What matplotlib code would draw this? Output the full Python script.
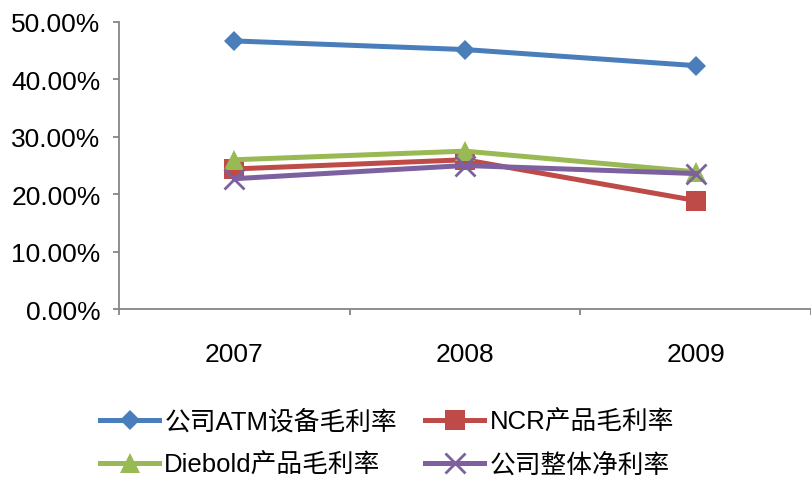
import matplotlib
matplotlib.use('Agg')
import matplotlib.pyplot as plt
from matplotlib.ticker import PercentFormatter, FixedLocator
import numpy as np

plt.rcParams['font.family'] = ['Liberation Sans', 'Noto Sans CJK SC']

years = ['2007', '2008', '2009']
atm_gross = [46.7, 45.2, 42.4]
ncr_gross = [24.4, 26.0, 18.9]
diebold_gross = [26.0, 27.5, 23.9]
net_margin = [22.7, 25.0, 23.6]

series = [
    ('公司ATM设备毛利率', atm_gross, '#4a7ebb', 'D', 10),
    ('NCR产品毛利率', ncr_gross, '#be4b48', 's', 14),
    ('Diebold产品毛利率', diebold_gross, '#98b954', '^', 14),
    ('公司整体净利率', net_margin, '#7d60a0', 'x', 14),
]

fig = plt.figure(figsize=(8.12, 4.81), dpi=100)
ax = fig.add_axes([119 / 812, 1 - 310 / 481, 692 / 812, 287 / 481])

x = np.arange(len(years))
lines = []
for name, vals, color, marker, ms in series:
    ln, = ax.plot(x, vals, color=color, lw=3.6, marker=marker, markersize=ms,
                  markeredgewidth=2.0 if marker == 'x' else 0,
                  markeredgecolor=color, label=name)
    lines.append(ln)

ax.set_xlim(-0.5, len(years) - 0.5)
ax.set_ylim(0, 50)
ax.set_yticks(np.arange(0, 51, 10))
ax.yaxis.set_major_formatter(PercentFormatter(decimals=2))
ax.set_xticks(x)
ax.set_xticklabels(years)
ax.xaxis.set_minor_locator(FixedLocator(np.arange(-0.5, len(years), 1)))

for side in ['top', 'right']:
    ax.spines[side].set_visible(False)
for side in ['left', 'bottom']:
    ax.spines[side].set_color('#868686')
    ax.spines[side].set_linewidth(1.3)

ax.tick_params(axis='y', which='major', length=4.3, width=1.3, color='#868686',
               labelsize=19, pad=9)
ax.tick_params(axis='x', which='major', length=0, labelsize=19, pad=24)
ax.tick_params(axis='x', which='minor', length=4.3, width=1.3, color='#868686')

# legend fills column-wise, so order the handles to read row by row
order = [0, 2, 1, 3]
fig.legend([lines[i] for i in order], [lines[i].get_label() for i in order],
           loc='upper left', bbox_to_anchor=(100 / 812, 1 - 410 / 481), ncol=2,
           frameon=False, fontsize=18.5, handlelength=2.3, handletextpad=0.2,
           columnspacing=1.1, labelspacing=0.75, borderaxespad=0, borderpad=0)

fig.savefig('out.png', dpi=100)
